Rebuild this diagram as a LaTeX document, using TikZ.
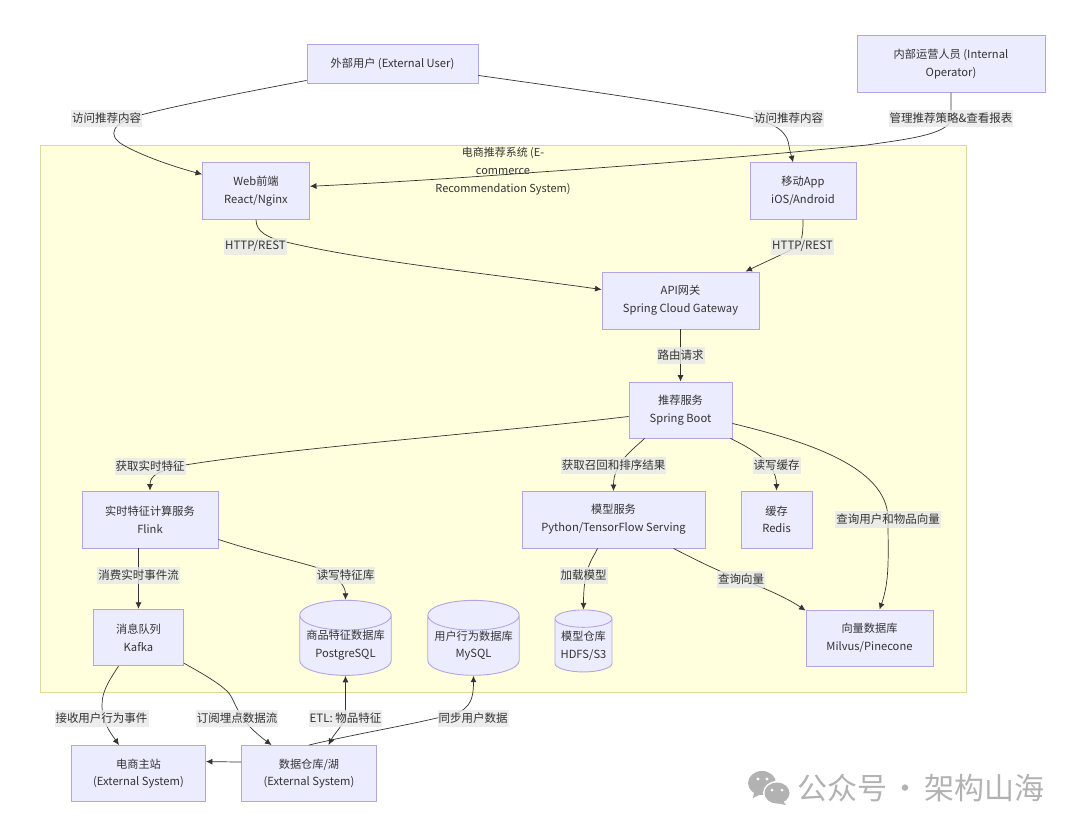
\documentclass[tikz,border=0pt]{standalone}
\usepackage{fontspec}
\usepackage{xcolor}
\usepackage{tikz}
\usetikzlibrary{positioning, arrows.meta, calc, shapes.geometric}
\setmainfont{Noto Sans CJK SC}
\definecolor{boxfill}{HTML}{ECECFF}
\definecolor{boxedge}{HTML}{B4A4E6}
\definecolor{groupfill}{HTML}{FFFFDE}
\definecolor{groupedge}{HTML}{DADA9C}
\definecolor{inkgray}{HTML}{333333}
\definecolor{labelfill}{HTML}{E8E8E8}
\definecolor{markgray}{HTML}{B2B2B2}

\begin{document}
\begin{tikzpicture}[
    x=1pt, y=-1pt,
    every node/.style={font=\fontsize{11.2}{17.7}\selectfont, text=inkgray},
    boxnode/.style={rectangle, draw=boxedge, fill=boxfill, line width=0.9pt, align=center, inner sep=0pt},
    dbnode/.style={cylinder, shape border rotate=90, aspect=0.38, draw=boxedge, fill=boxfill, line width=0.9pt, align=center, inner sep=0pt},
    groupnode/.style={rectangle, draw=groupedge, fill=groupfill, line width=0.9pt, inner sep=0pt},
    edgelabel/.style={font=\fontsize{11.5}{17.7}\selectfont, fill=labelfill, fill opacity=0.8, text opacity=1, inner xsep=1pt, inner ysep=0pt, minimum height=17pt},
    flowline/.style={draw=inkgray, line width=0.7pt, -{Latex[length=6.5pt,width=6pt]}},
]
\useasboundingbox (0,0) rectangle (1080,833);

\node[groupnode, minimum width=925.5pt, minimum height=547pt](ecsys) at (503.25,418.5){};
\node[align=center, font=\fontsize{11}{17.7}\selectfont](ecsystitle) at (503,171){电商推荐系统 (E-\\commerce\\Recommendation System)};

\node[boxnode, minimum width=171pt, minimum height=39pt](extuser) at (392.5,63.5){外部用户 (External User)};
\node[boxnode, minimum width=188pt, minimum height=56.5pt](operator) at (951,64){内部运营人员 (Internal\\Operator)};
\node[boxnode, minimum width=107pt, minimum height=56.5pt](webfe) at (256,191){Web前端\\React/Nginx};
\node[boxnode, minimum width=106pt, minimum height=56.5pt](mobapp) at (803,191){移动App\\iOS/Android};
\node[boxnode, minimum width=157pt, minimum height=57pt](gateway) at (680.5,300.5){API网关\\Spring Cloud Gateway};
\node[boxnode, minimum width=103pt, minimum height=56pt](recsvc) at (680.5,410){推荐服务\\Spring Boot};
\node[boxnode, minimum width=136pt, minimum height=57pt](flink) at (150,519.5){实时特征计算服务\\Flink};
\node[boxnode, minimum width=183pt, minimum height=57pt](modelsvc) at (613.5,519.5){模型服务\\Python/TensorFlow Serving};
\node[boxnode, minimum width=71pt, minimum height=57pt](redis) at (776.5,519.5){缓存\\Redis};
\node[boxnode, minimum width=90pt, minimum height=56.5pt](kafka) at (138.5,637.5){消息队列\\Kafka};
\node[boxnode, minimum width=127pt, minimum height=56pt](vectordb) at (869.5,638){向量数据库\\Milvus/Pinecone};
\node[boxnode, minimum width=134pt, minimum height=56pt](mainsite) at (138.5,773.5){电商主站\\(External System)};
\node[boxnode, minimum width=134.5pt, minimum height=56pt](warehouse) at (309,773.5){数据仓库/湖\\(External System)};
\node[dbnode, minimum width=91.5pt, minimum height=67pt](itemdb) at (345.5,645.5){商品特征数据库\\PostgreSQL};
\node[dbnode, minimum width=91.5pt, minimum height=67pt](userdb) at (473.5,645.5){用户行为数据库\\MySQL};
\node[dbnode, minimum width=57pt, minimum height=62pt](modelrepo) at (583.5,645.5){模型仓库\\HDFS/S3};

\draw[flowline] ([yshift=3pt]extuser.south west) .. controls (230,95) and (170,107) .. (137,116) .. controls (115,122) and (104,135) .. (125,146) .. controls (145,157) and (175,167) .. ([yshift=-12pt]webfe.north west);
\draw[flowline] ([yshift=8pt]extuser.south east) .. controls (560,87) and (690,105) .. (755,119) .. controls (780,125) and (788,135) .. (789,146) .. controls (790,152) and (792,158) .. ([xshift=-10pt]mobapp.north);
\draw[flowline] (operator.south) -- (951,118) .. controls (951,135) and (900,140) .. (867,145) .. controls (720,160) and (540,172) .. (540,172) .. controls (460,178) and (380,183) .. ([yshift=-24pt]webfe.north east);
\draw[flowline] (webfe.south) .. controls (256,232) and (268,238) .. (286,242) .. controls (370,262) and (500,275) .. ([yshift=-18pt]gateway.north west);
\draw[flowline] (mobapp.south) .. controls (803,228) and (803,240) .. (798,246) .. controls (790,251) and (765,262) .. ([xshift=65pt]gateway.north);
\draw[flowline] (gateway.south) -- (recsvc.north);
\draw[flowline] ([yshift=22pt]recsvc.south west) .. controls (500,432) and (290,448) .. (185,465) .. controls (160,470) and (150,475) .. (flink.north);
\draw[flowline] ([xshift=16pt]recsvc.south west) .. controls (635,448) and (613.5,462) .. (613.5,491);
\draw[flowline] ([xshift=-2pt]recsvc.south east) .. controls (750,448) and (776.5,462) .. (redis.north);
\draw[flowline] ([yshift=15pt]recsvc.south east) .. controls (800,440) and (888,465) .. (888,519) .. controls (888,555) and (890,580) .. ([xshift=10pt]vectordb.north);
\draw[flowline] (flink.south -| kafka.north) -- (kafka.north);
\draw[flowline] ([yshift=9pt]flink.south east) .. controls (260,553) and (300,562) .. (325,570) .. controls (340,578) and (345.5,588) .. (itemdb.top);
\draw[flowline] ([xshift=76pt]modelsvc.south west) .. controls (592,560) and (583.5,568) .. (modelrepo.top);
\draw[flowline] ([xshift=152pt]modelsvc.south west) .. controls (700,562) and (720,572) .. (745,581) .. controls (770,590) and (790,600) .. ([yshift=-1pt]vectordb.north west);
\draw[flowline] ([xshift=-20pt]kafka.south) .. controls (108,682) and (102,692) .. (102,705) .. controls (102,722) and (110,732) .. ([xshift=-19.5pt]mainsite.north);
\draw[flowline] ([yshift=3pt]kafka.south east) .. controls (205,675) and (228,688) .. (232,698) .. controls (240,715) and (245,725) .. ([xshift=-37.5pt]warehouse.north);
\draw[draw=inkgray, line width=0.7pt, {Latex[length=6.5pt,width=6pt]}-{Latex[length=6.5pt,width=6pt]}] (itemdb.bottom) -- (345.5,710) .. controls (345.5,725) and (335,732) .. ([xshift=19.5pt]warehouse.north);
\draw[flowline] (warehouse.north) .. controls (350,735) and (410,725) .. (445,716) .. controls (468,712) and (473.5,703) .. (userdb.bottom);
\draw[flowline] ([yshift=-17pt]warehouse.north west) -- ([yshift=-16.5pt]mainsite.north east);

\node[edgelabel](lbweb) at (106.5,118){访问推荐内容};
\node[edgelabel](lbapp) at (788.5,118){访问推荐内容};
\node[edgelabel](lbmanage) at (951,118){管理推荐策略\&查看报表};
\node[edgelabel](lbwebapi) at (255.5,246){HTTP/REST};
\node[edgelabel](lbappapi) at (802.5,246){HTTP/REST};
\node[edgelabel](lbroute) at (680.5,355){路由请求};
\node[edgelabel](lbrealtime) at (150,466){获取实时特征};
\node[edgelabel](lbrecall) at (613.5,465.5){获取召回和排序结果};
\node[edgelabel](lbcache) at (776.5,465.5){读写缓存};
\node[edgelabel](lbvector) at (888,519.5){查询用户和物品向量};
\node[edgelabel](lbconsume) at (138.5,575){消费实时事件流};
\node[edgelabel](lbfeature) at (345.5,575){读写特征库};
\node[edgelabel](lbload) at (583.5,575){加载模型};
\node[edgelabel](lbquery) at (741,579){查询向量};
\node[edgelabel](lbreceive) at (101.5,718){接收用户行为事件};
\node[edgelabel](lbtrack) at (237,718){订阅埋点数据流};
\node[edgelabel](lbetl) at (345.5,718){ETL: 物品特征};
\node[edgelabel](lbsync) at (473,718){同步用户数据};

\fill[markgray] (762,783) ellipse (14 and 12);
\fill[markgray] (754,792) -- (753,798) -- (761,794) -- cycle;
\fill[white] (777,793) ellipse (14 and 12);
\fill[markgray] (777,793) ellipse (12.5 and 10.5);
\fill[markgray] (783,801) -- (786,805) -- (776,803) -- cycle;
\fill[white] (758,779) circle (1.7) (767,779) circle (1.7) (772,790) circle (1.5) (782,790) circle (1.5);
\node[text=markgray, font=\fontsize{30}{30}\selectfont, anchor=west, inner sep=0pt](wmark) at (797,788){公众号\hspace{-3pt} · \hspace{-3pt}架构山海};
\end{tikzpicture}
\end{document}
